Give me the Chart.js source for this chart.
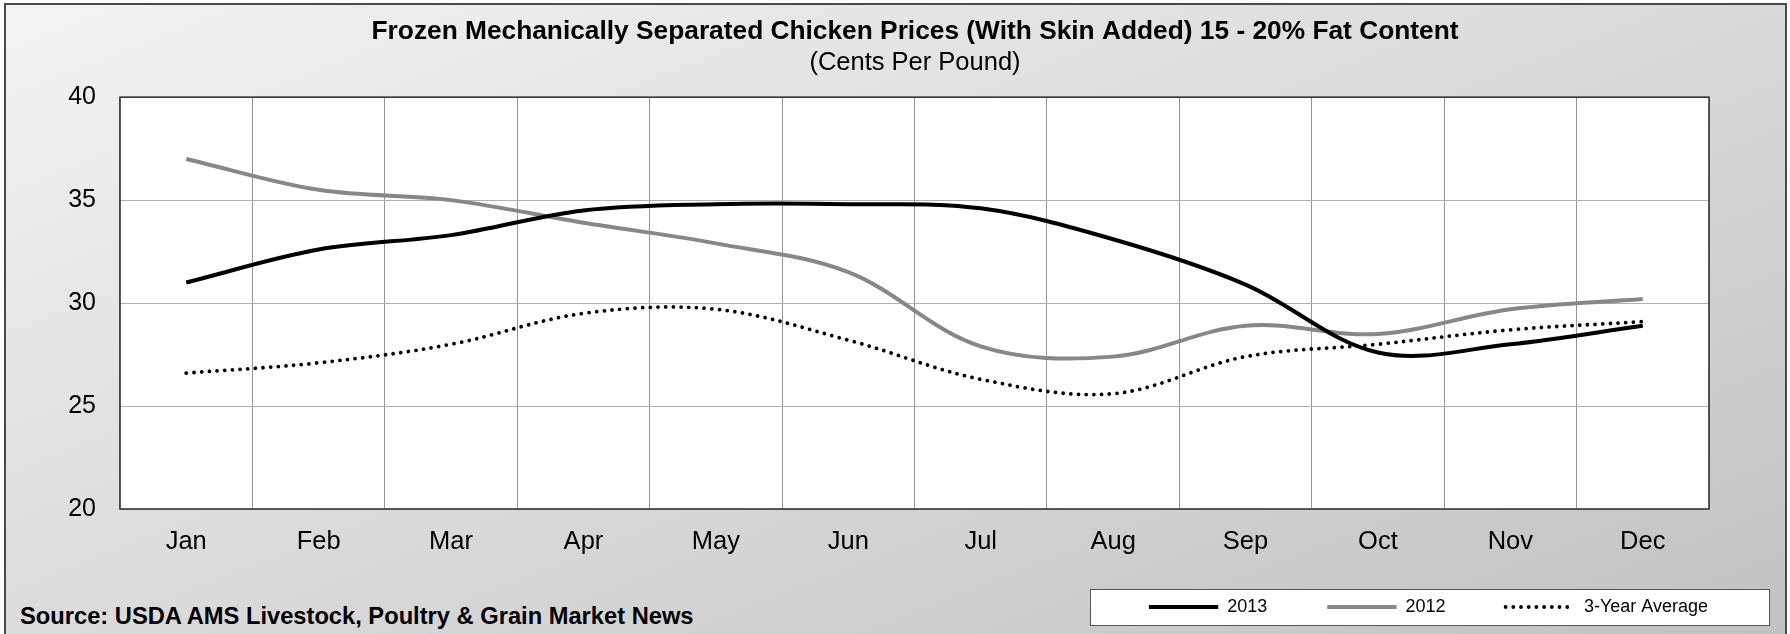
<!DOCTYPE html>
<html><head><meta charset="utf-8">
<script src="https://cdn.jsdelivr.net/npm/chart.js@4.4.1/dist/chart.umd.min.js"></script>
<style>
html,body{margin:0;padding:0;width:1790px;height:634px;overflow:hidden;background:#fff;}
#frame{position:absolute;left:4px;top:3px;width:1779px;height:700px;border:2px solid #4a4a4a;border-bottom:none;background:linear-gradient(to bottom right,#f3f3f3,#bfbfbf);}
#legendBox{position:absolute;left:1090px;top:589px;width:678px;height:35px;background:#fff;border:1px solid #555;}
#source{position:absolute;left:20px;top:603px;font:bold 23.7px "Liberation Sans",Arial,sans-serif;color:#000;white-space:nowrap;}
#c{position:absolute;left:0;top:0;}
</style></head>
<body>
<div id="frame"></div>
<div id="legendBox"></div>
<div id="source">Source: USDA AMS Livestock, Poultry &amp; Grain Market News</div>
<canvas id="c" width="1790" height="634"></canvas>
<script>
const months = ["Jan","Feb","Mar","Apr","May","Jun","Jul","Aug","Sep","Oct","Nov","Dec"];
const series2013 = [31.0, 32.6, 33.3, 34.5, 34.8, 34.8, 34.6, 33.1, 30.9, 27.6, 28.0, 28.9];
const series2012 = [37.0, 35.5, 35.0, 33.9, 32.9, 31.5, 27.9, 27.4, 28.9, 28.5, 29.7, 30.2];
const avg3Year   = [26.6, 27.1, 28.0, 29.5, 29.7, 28.2, 26.3, 25.6, 27.4, 28.0, 28.7, 29.1];
const seriesNames = ["2013", "2012", "3-Year Average"];
const yTicks = {min: 20, max: 40, step: 5};
const titleText = "Frozen Mechanically Separated Chicken Prices (With Skin Added) 15 - 20% Fat Content";
const subtitleText = "(Cents Per Pound)";

const FAM = '"Liberation Sans", Arial, sans-serif';
Chart.defaults.font.family = FAM;
Chart.defaults.color = '#000';

const DOT_GAP = 7.7;
const LEGEND_ITEM_CENTER_Y = 607;

const plotBg = {
  id: 'plotBg',
  afterLayout(chart) {
    const lg = chart.legend;
    if (!lg) return;
    const pad = lg.options.labels.padding;
    const fs = lg.options.labels.font.size;
    lg.top = LEGEND_ITEM_CENTER_Y - fs / 2 - pad;
  },
  beforeDraw(chart) {
    const {ctx, chartArea: a} = chart;
    ctx.save();
    ctx.fillStyle = '#ffffff';
    ctx.fillRect(a.left, a.top, a.right - a.left, a.bottom - a.top);
    ctx.restore();
  },
  beforeDatasetsDraw(chart) {
    const {ctx, chartArea: a} = chart;
    ctx.save();
    ctx.strokeStyle = '#353535';
    ctx.lineWidth = 1.6;
    ctx.strokeRect(a.left, a.top, a.right - a.left, a.bottom - a.top);
    ctx.restore();
  }
};

new Chart(document.getElementById('c').getContext('2d'), {
  type: 'line',
  data: {
    labels: months,
    datasets: [
      {label: seriesNames[0], data: series2013, borderColor: '#000000', backgroundColor: '#000000',
       borderWidth: 4, pointRadius: 0, pointHoverRadius: 0, tension: 0.35, fill: false},
      {label: seriesNames[1], data: series2012, borderColor: '#878787', backgroundColor: '#878787',
       borderWidth: 4, pointRadius: 0, pointHoverRadius: 0, tension: 0.35, fill: false},
      {label: seriesNames[2], data: avg3Year, borderColor: '#000000', backgroundColor: '#000000',
       borderWidth: 3.8, borderDash: [0.001, DOT_GAP], borderCapStyle: 'round',
       pointRadius: 0, pointHoverRadius: 0, tension: 0.35, fill: false}
    ]
  },
  options: {
    responsive: false,
    animation: false,
    layout: {padding: {left: 62, right: 22, top: 0, bottom: 0}},
    plugins: {
      title: {display: true, text: titleText, color: '#000',
              font: {family: FAM, size: 26.3, weight: 'bold'}, padding: {top: 16, bottom: 0}},
      subtitle: {display: true, text: subtitleText, color: '#000',
              font: {family: FAM, size: 25.5, weight: 'normal'}, padding: {top: 0, bottom: 19.0}},
      legend: {display: true, position: 'bottom', align: 'end', fullSize: true, maxHeight: 76.4,
        labels: {usePointStyle: true, pointStyle: 'line', pointStyleWidth: DOT_GAP * 9, padding: 60,
                 color: '#000', font: {family: FAM, size: 18},
                 generateLabels(chart) {
                   const items = Chart.defaults.plugins.legend.labels.generateLabels(chart);
                   items.forEach(it => {
                     const ds = chart.data.datasets[it.datasetIndex];
                     it.lineDash = ds.borderDash || [];
                     it.lineCap = ds.borderCapStyle || 'butt';
                     it.lineWidth = ds.borderWidth;
                     it.strokeStyle = ds.borderColor;
                     it.fontColor = '#000';
                   });
                   return items;
                 }}},
      tooltip: {enabled: false}
    },
    scales: {
      x: {
        offset: true,
        grid: {offset: true, color: '#969696', lineWidth: 1, drawTicks: false},
        border: {display: false},
        ticks: {color: '#000', font: {family: FAM, size: 25.5}, padding: 18, maxRotation: 0, autoSkip: false},
        afterFit(s) { s.height = 48.6; }
      },
      y: {
        min: yTicks.min, max: yTicks.max,
        ticks: {stepSize: yTicks.step, color: '#000', font: {family: FAM, size: 25}, padding: 24},
        grid: {color: '#b0b0b0', lineWidth: 1, drawTicks: false},
        border: {display: false},
        afterFit(s) { s.width = 58; }
      },
      y2: {
        position: 'right', display: true,
        grid: {display: false}, ticks: {display: false}, border: {display: false},
        afterFit(s) { s.width = 59; }
      }
    }
  },
  plugins: [plotBg]
});
</script>
</body></html>
